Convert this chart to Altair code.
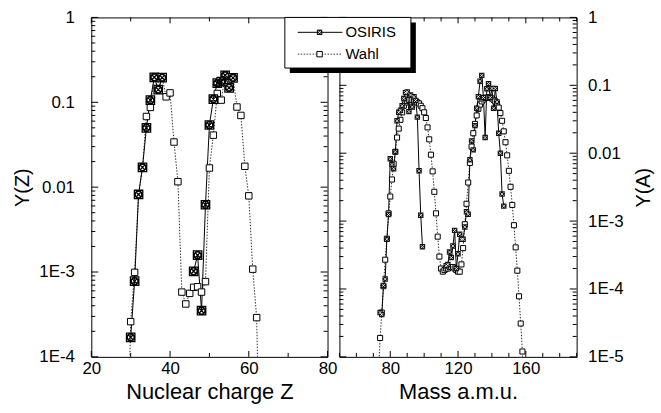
import altair as alt
import pandas as pd

# ---------------- data ----------------
# Left panel: yield vs nuclear charge Z
z_wahl = list(range(29, 64))
y_wahl_z = [2e-6, 2.6e-4, 9.9e-4, 0.0082, 0.0171, 0.068, 0.087, 0.197, 0.141, 0.195,
            0.116, 0.129, 0.034, 0.0116, 5.8e-4, 4.2e-4, 5.6e-4, 6.6e-4, 6.7e-4, 5.8e-4,
            7.7e-4, 0.0168, 0.041, 0.127, 0.106, 0.208, 0.148, 0.194, 0.088, 0.070,
            0.0176, 0.0079, 1.08e-3, 2.9e-4, 2e-6]
z_osiris = list(range(30, 57))
y_osiris_z = [1.7e-4, 7.8e-4, 0.0082, 0.0171, 0.050, 0.106, 0.197, 0.141, 0.195,
              None, None, None, None, None, None, None,
              1.02e-3, 1.58e-3, 3.5e-4, 0.0062, 0.054, 0.109, 0.168, 0.175, 0.208, 0.148, 0.194]

# Right panel: yield vs mass A
a_wahl = list(range(73, 160))
y_wahl_a = [5e-6, 1.9e-5, 4.5e-5, 1.1e-4, 2.7e-4, 5.5e-4, 1.3e-3, 2.3e-3, 4.1e-3, 7e-3,
            0.0105, 0.017, 0.023, 0.031, 0.040, 0.050, 0.056, 0.059, 0.061, 0.062,
            0.061, 0.060, 0.058, 0.056, 0.054, 0.050, 0.046, 0.040, 0.033, 0.024,
            0.016, 0.0095, 0.0054, 0.0027, 1.3e-3, 5.9e-4, 3.0e-4, 2.0e-4, 1.8e-4, 1.9e-4,
            2.0e-4, 2.0e-4, 2.1e-4, 2.1e-4, 2.1e-4, 2.0e-4, 1.9e-4, 1.8e-4, 1.8e-4, 2.3e-4,
            4.0e-4, 9e-4, 1.8e-3, 3.7e-3, 7.2e-3, 0.0125, 0.0197, 0.027, 0.036, 0.045,
            0.052, 0.058, 0.062, 0.065, 0.066, 0.066, 0.066, 0.064, 0.061, 0.058,
            0.054, 0.047, 0.039, 0.030, 0.021, 0.0145, 0.0093, 0.0055, 3.2e-3, 1.73e-3,
            8.7e-4, 4.1e-4, 1.86e-4, 7.8e-5, 3.1e-5, 1.2e-5, 2e-6]
a_osiris = list(range(74, 148))
y_osiris_a = [4.5e-5, 4.2e-5, 1.13e-4, 1.4e-4, 5.4e-4, 1.25e-3, 8.3e-3, 6.8e-3, 5.9e-3, 0.0105,
              0.030, 0.040, 0.043, 0.050, 0.064, 0.078, 0.080, 0.041, 0.072, 0.048,
              0.068, 0.060, 0.034, 0.0055, 1.22e-3, 4.2e-4,
              None, None, None, None, None, None, None, None, None, None, None, None, None,
              2.2e-4, 2.3e-4, 3.5e-4, 2.9e-4, 4.3e-4, 7.3e-4, 2.0e-4, 3.3e-4, 6.4e-4, 5.4e-4,
              5.4e-4, 8.2e-4, 1.37e-3, 1.26e-3, 8.0e-3, 0.0152, 0.0112, 0.0255, 0.046, 0.068,
              0.115, 0.14, 0.066, 0.017, 0.089, 0.106, 0.066, 0.090, 0.046, 0.090,
              0.057, 0.0197, 0.010, 2.5e-3, 1.66e-3, 1.86e-4]

z_ticks = [20, 30, 40, 50, 60, 70, 80]
z_labels = [20, 40, 60, 80]
a_ticks = [50, 60, 70, 80, 90, 100, 110, 120, 130, 140, 150, 160, 170, 180, 190]
a_labels = [80, 120, 160]
z_decades = [-4, -3, -2, -1, 0]
a_decades = [-5, -4, -3, -2, -1, 0]
series_names = ["OSIRIS", "Wahl"]

FONT = "Liberation Sans"


def seg_frame(xs, ys):
    rows, seg, gap = [], 0, False
    for x, y in zip(xs, ys):
        if y is None:
            if not gap:
                seg += 1
            gap = True
            continue
        gap = False
        rows.append({"x": x, "y": y, "seg": seg})
    return pd.DataFrame(rows)


def panel(xw, yw, xo, yo, xdom, xticks, xlabels, decades, W, H, yorient,
          xtitle, ytitle, big, with_legend):
    X = alt.X("x:Q", scale=alt.Scale(domain=xdom, nice=False, zero=False),
              axis=alt.Axis(title=xtitle, values=xlabels, format="d", labelFlush=False,
                            labelOverlap=False, labelPadding=4, titlePadding=5,
                            titleFontSize=22))
    yaxis = dict(title=ytitle, orient=yorient, values=[10.0 ** d for d in decades],
                 labelExpr="datum.value >= 0.01 ? '' + datum.value : '1E' + round(log(datum.value)/LN10)",
                 labelFlush=False, labelOverlap=False, titleFontSize=20)
    if yorient == "left":
        yaxis.update(labelPadding=17, titlePadding=6)
    else:
        yaxis.update(labelPadding=11, titlePadding=11, titleAngle=270, titleBaseline="top",
                     labelAlign="left")
    Y = alt.Y("y:Q", scale=alt.Scale(type="log", domain=[10.0 ** decades[0], 1], nice=False),
              axis=alt.Axis(**yaxis))

    layers = []
    major_x = pd.DataFrame({"x": [t for t in xticks if t in xlabels]})
    minor_x = pd.DataFrame({"x": [t for t in xticks if t not in xlabels]})
    for dfx, L in ((major_x, 6), (minor_x, 4)):
        layers.append(alt.Chart(dfx).mark_rule(color="black", strokeWidth=1)
                      .encode(x=X, y=alt.value(H), y2=alt.value(H - L)))
        layers.append(alt.Chart(dfx).mark_rule(color="black", strokeWidth=1)
                      .encode(x=X, y=alt.value(0), y2=alt.value(L)))
    major_y = pd.DataFrame({"y": [10.0 ** d for d in decades]})
    minor_y = pd.DataFrame({"y": [m * 10.0 ** d for d in decades[:-1] for m in range(2, 10)]})
    for dfy, L in ((major_y, 7), (minor_y, 4)):
        layers.append(alt.Chart(dfy).mark_rule(color="black", strokeWidth=1)
                      .encode(y=Y, x=alt.value(0), x2=alt.value(L)))
        layers.append(alt.Chart(dfy).mark_rule(color="black", strokeWidth=1)
                      .encode(y=Y, x=alt.value(W), x2=alt.value(W - L)))

    dw = seg_frame(xw, yw)
    do = seg_frame(xo, yo)
    layers.append(alt.Chart(dw).mark_line(color="#333", strokeWidth=1, strokeDash=[1.5, 1.5], clip=True)
                  .encode(x=X, y=Y, detail="seg:N"))
    layers.append(alt.Chart(do).mark_line(color="black", strokeWidth=1, clip=True)
                  .encode(x=X, y=Y, detail="seg:N"))
    wsize = 42 if big else 26
    layers.append(alt.Chart(dw).mark_point(shape="square", fill="white", stroke="black",
                                           strokeWidth=1, size=wsize, opacity=1, clip=True)
                  .encode(x=X, y=Y))
    if big:
        path = ("M-1,-1H1V1H-1Z M-0.8,0A0.8,0.8 0 1,0 0.8,0A0.8,0.8 0 1,0 -0.8,0 "
                "M-0.6,-0.6L0.6,0.6M0.6,-0.6L-0.6,0.6")
        layers.append(alt.Chart(do).mark_point(shape=path, fill="white", stroke="black",
                                               strokeWidth=1.3, size=72, opacity=1, clip=True)
                      .encode(x=X, y=Y))
    else:
        layers.append(alt.Chart(do).mark_point(shape="square", filled=True, color="#111",
                                               size=30, opacity=1, clip=True)
                      .encode(x=X, y=Y))
        layers.append(alt.Chart(do).mark_point(shape="M-1,-1L1,1M1,-1L-1,1", stroke="white",
                                               strokeWidth=0.8, size=10, opacity=1, clip=True)
                      .encode(x=X, y=Y))

    if with_legend:
        one = pd.DataFrame({"k": [0]})
        layers += [
            alt.Chart(one).mark_rect(color="black").encode(
                x=alt.value(-50), x2=alt.value(77), y=alt.value(5), y2=alt.value(56)),
            alt.Chart(one).mark_rect(fill="white", stroke="black", strokeWidth=1).encode(
                x=alt.value(-55), x2=alt.value(72), y=alt.value(0), y2=alt.value(51)),
            alt.Chart(one).mark_rule(color="black", strokeWidth=1).encode(
                x=alt.value(-42), x2=alt.value(3), y=alt.value(15)),
            alt.Chart(one).mark_point(shape="square", filled=True, color="#111", size=30,
                                      opacity=1).encode(x=alt.value(-20), y=alt.value(15)),
            alt.Chart(one).mark_point(shape="M-1,-1L1,1M1,-1L-1,1", stroke="white",
                                      strokeWidth=0.8, size=10, opacity=1).encode(
                x=alt.value(-20), y=alt.value(15)),
            alt.Chart(one).mark_text(text=series_names[0], align="left", baseline="middle",
                                     font=FONT, fontSize=15, color="black").encode(
                x=alt.value(6), y=alt.value(15)),
            alt.Chart(one).mark_rule(color="#333", strokeWidth=1, strokeDash=[1.5, 1.5]).encode(
                x=alt.value(-42), x2=alt.value(3), y=alt.value(37)),
            alt.Chart(one).mark_point(shape="square", fill="white", stroke="black",
                                      strokeWidth=1, size=30, opacity=1).encode(
                x=alt.value(-20), y=alt.value(37)),
            alt.Chart(one).mark_text(text=series_names[1], align="left", baseline="middle",
                                     font=FONT, fontSize=15, color="black").encode(
                x=alt.value(6), y=alt.value(37)),
        ]
    return alt.layer(*layers).properties(width=W, height=H)


left = panel(z_wahl, y_wahl_z, z_osiris, y_osiris_z, [20, 80], z_ticks, z_labels, z_decades,
             238, 342, "left", "Nuclear charge Z", "Y(Z)", True, False)
right = panel(a_wahl, y_wahl_a, a_osiris, y_osiris_a, [50, 190], a_ticks, a_labels, a_decades,
              239, 342, "right", "Mass a.m.u.", "Y(A)", False, True)

chart = alt.HConcatChart(hconcat=[left, right], spacing=12, bounds="flush").properties(
    padding={"left": 12, "top": 6, "right": 6, "bottom": 8},
    background="white",
).configure_view(stroke="black", strokeWidth=1).configure_axis(
    domain=False, ticks=False, grid=False, labelFont=FONT, labelFontSize=17,
    labelColor="black", titleFont=FONT, titleFontWeight="normal", titleColor="black",
)

chart.save("out.html", embed_options={"renderer": "svg", "actions": False})
